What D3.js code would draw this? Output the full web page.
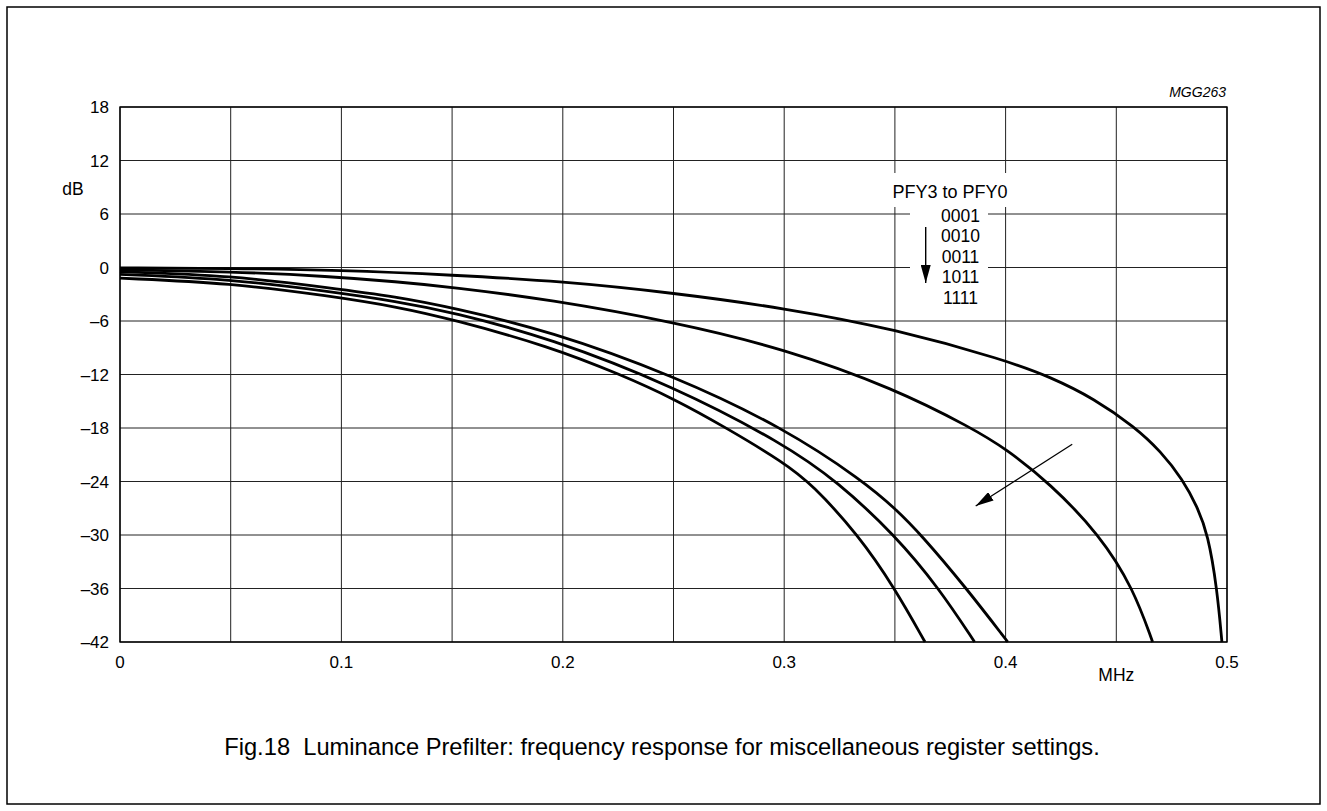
<!DOCTYPE html>
<html>
<head>
<meta charset="utf-8">
<script src="https://cdn.jsdelivr.net/npm/d3@7"></script>
<style>
  body { margin: 0; background: #fff; }
  text { font-family: "Liberation Sans", Arial, sans-serif; fill: #000; }
</style>
</head>
<body>
<div id="chart"></div>
<script>
// frequency (MHz) vs response (dB)
const pfy0001 = [[0, -0.05], [0.05, -0.1], [0.1, -0.3], [0.15, -0.84], [0.2, -1.55],
    [0.25, -2.85], [0.3, -4.55], [0.35, -6.9], [0.4, -10.4], [0.42, -12.25], [0.44, -14.7],
    [0.4584, -17.9], [0.47, -20.6], [0.4801, -23.8], [0.4865, -26.8], [0.4914, -29.9], [0.4955, -36], [0.4977, -42]];
const pfy0010 = [[0, -0.25], [0.05, -0.45], [0.095, -1.0], [0.125, -1.6], [0.15, -2.2], [0.194, -3.6],
    [0.25, -6.1], [0.3, -9.1], [0.35, -13.6], [0.3847, -18], [0.4, -20.3], [0.42, -24.2],
    [0.4426, -30], [0.4577, -36], [0.4664, -42]];
const pfy0011 = [[0, -0.47], [0.05, -0.9], [0.095, -2.3], [0.125, -3.3], [0.15, -4.5], [0.194, -7.1],
    [0.25, -12.1], [0.3, -18], [0.336, -24], [0.35, -27], [0.362, -30], [0.3824, -36], [0.401, -42]];
const pfy1011 = [[0, -0.77], [0.05, -1.3], [0.095, -2.7], [0.125, -3.8], [0.15, -5.0], [0.194, -7.9],
    [0.25, -13.3], [0.3, -19.8], [0.324, -24], [0.35, -30], [0.37, -36], [0.386, -42]];
const pfy1111 = [[0, -1.2], [0.05, -1.75], [0.095, -3.2], [0.125, -4.4], [0.15, -5.8], [0.194, -8.85],
    [0.226, -12], [0.25, -14.7], [0.274, -18], [0.3, -21.9], [0.3125, -24.3], [0.3335, -30], [0.35, -36],
    [0.3636, -42]];

const curveCodes = ['0001', '0010', '0011', '1011', '1111'];
const xTicks = [0, 0.1, 0.2, 0.3, 0.4, 0.5];
const xGrid = [0, 0.05, 0.1, 0.15, 0.2, 0.25, 0.3, 0.35, 0.4, 0.45, 0.5];
const yTicks = [18, 12, 6, 0, -6, -12, -18, -24, -30, -36, -42];

const chartWidth = 1327;
const chartHeight = 811;

const svg = d3.select('#chart')
    .append('svg')
    .attr('width', chartWidth)
    .attr('height', chartHeight);

// outer frame
svg.append('rect')
    .attr('x', 7).attr('y', 7)
    .attr('width', chartWidth - 14).attr('height', chartHeight - 14)
    .attr('fill', 'none').attr('stroke', '#000').attr('stroke-width', 1.5);

const xScale = d3.scaleLinear().domain([0, 0.5]).range([120, 1227]);
const yScale = d3.scaleLinear().domain([-42, 18]).range([642, 107]);

// grid
svg.append('g').selectAll('line')
    .data(xGrid)
    .enter()
    .append('line')
    .attr('x1', (d) => xScale(d)).attr('x2', (d) => xScale(d))
    .attr('y1', yScale(18)).attr('y2', yScale(-42))
    .attr('stroke', '#222').attr('stroke-width', 1);

svg.append('g').selectAll('line')
    .data(yTicks)
    .enter()
    .append('line')
    .attr('x1', xScale(0)).attr('x2', xScale(0.5))
    .attr('y1', (d) => yScale(d)).attr('y2', (d) => yScale(d))
    .attr('stroke', '#222').attr('stroke-width', 1);

svg.append('rect')
    .attr('x', xScale(0)).attr('y', yScale(18))
    .attr('width', xScale(0.5) - xScale(0)).attr('height', yScale(-42) - yScale(18))
    .attr('fill', 'none').attr('stroke', '#000').attr('stroke-width', 1.4);

// axes labels
const fmtY = (d) => (d < 0 ? '\u2013' + Math.abs(d) : String(d));
svg.append('g').selectAll('text')
    .data(yTicks)
    .enter()
    .append('text')
    .attr('x', 109)
    .attr('y', (d) => yScale(d) + 6)
    .attr('text-anchor', 'end')
    .attr('font-size', 17)
    .text(fmtY);

svg.append('g').selectAll('text')
    .data(xTicks)
    .enter()
    .append('text')
    .attr('x', (d) => xScale(d))
    .attr('y', 668)
    .attr('text-anchor', 'middle')
    .attr('font-size', 17)
    .text((d) => String(d));

svg.append('text').attr('x', 73).attr('y', 195).attr('text-anchor', 'middle')
    .attr('font-size', 17.5).text('dB');
svg.append('text').attr('x', xScale(0.45)).attr('y', 681).attr('text-anchor', 'middle')
    .attr('font-size', 17.5).text('MHz');
svg.append('text').attr('x', 1226).attr('y', 97).attr('text-anchor', 'end')
    .attr('font-size', 14).attr('font-style', 'italic').text('MGG263');

// legend
const legend = svg.append('g');
legend.append('rect').attr('x', 889).attr('y', 173).attr('width', 122).attr('height', 34).attr('fill', '#fff');
legend.append('rect').attr('x', 910).attr('y', 207).attr('width', 78).attr('height', 96).attr('fill', '#fff');
legend.append('text').attr('x', 950).attr('y', 197.5).attr('text-anchor', 'middle')
    .attr('font-size', 18).text('PFY3 to PFY0');
legend.selectAll('text.code')
    .data(curveCodes)
    .enter()
    .append('text')
    .attr('class', 'code')
    .attr('x', 960.5)
    .attr('y', (d, i) => 221.7 + i * 20.5)
    .attr('text-anchor', 'middle')
    .attr('font-size', 17.5)
    .text((d) => d);

// arrowheads
const defs = svg.append('defs');
defs.append('marker')
    .attr('id', 'headSmall')
    .attr('markerUnits', 'userSpaceOnUse')
    .attr('viewBox', '0 -5 18 10')
    .attr('refX', 18).attr('refY', 0)
    .attr('markerWidth', 18).attr('markerHeight', 10)
    .attr('orient', 'auto')
    .append('path').attr('d', 'M0,-5L18,0L0,5Z').attr('fill', '#000');

legend.append('line')
    .attr('x1', 925.7).attr('y1', 227).attr('x2', 925.7).attr('y2', 283)
    .attr('stroke', '#000').attr('stroke-width', 1.4)
    .attr('marker-end', 'url(#headSmall)');

svg.append('line')
    .attr('x1', xScale(0.4301)).attr('y1', yScale(-19.83))
    .attr('x2', xScale(0.3865)).attr('y2', yScale(-26.75))
    .attr('stroke', '#000').attr('stroke-width', 1.3)
    .attr('marker-end', 'url(#headSmall)');

// curves
const line = d3.line()
    .x((d) => xScale(d[0]))
    .y((d) => yScale(d[1]))
    .curve(d3.curveBasis);

svg.append('g').selectAll('path')
    .data([pfy0001, pfy0010, pfy0011, pfy1011, pfy1111])
    .enter()
    .append('path')
    .attr('d', line)
    .attr('fill', 'none')
    .attr('stroke', '#000')
    .attr('stroke-width', 2.8)
    .attr('stroke-linejoin', 'round');

svg.append('text')
    .attr('x', 662).attr('y', 755)
    .attr('text-anchor', 'middle')
    .attr('font-size', 23.7)
    .style('white-space', 'pre')
    .text('Fig.18  Luminance Prefilter: frequency response for miscellaneous register settings.');
</script>
</body>
</html>
